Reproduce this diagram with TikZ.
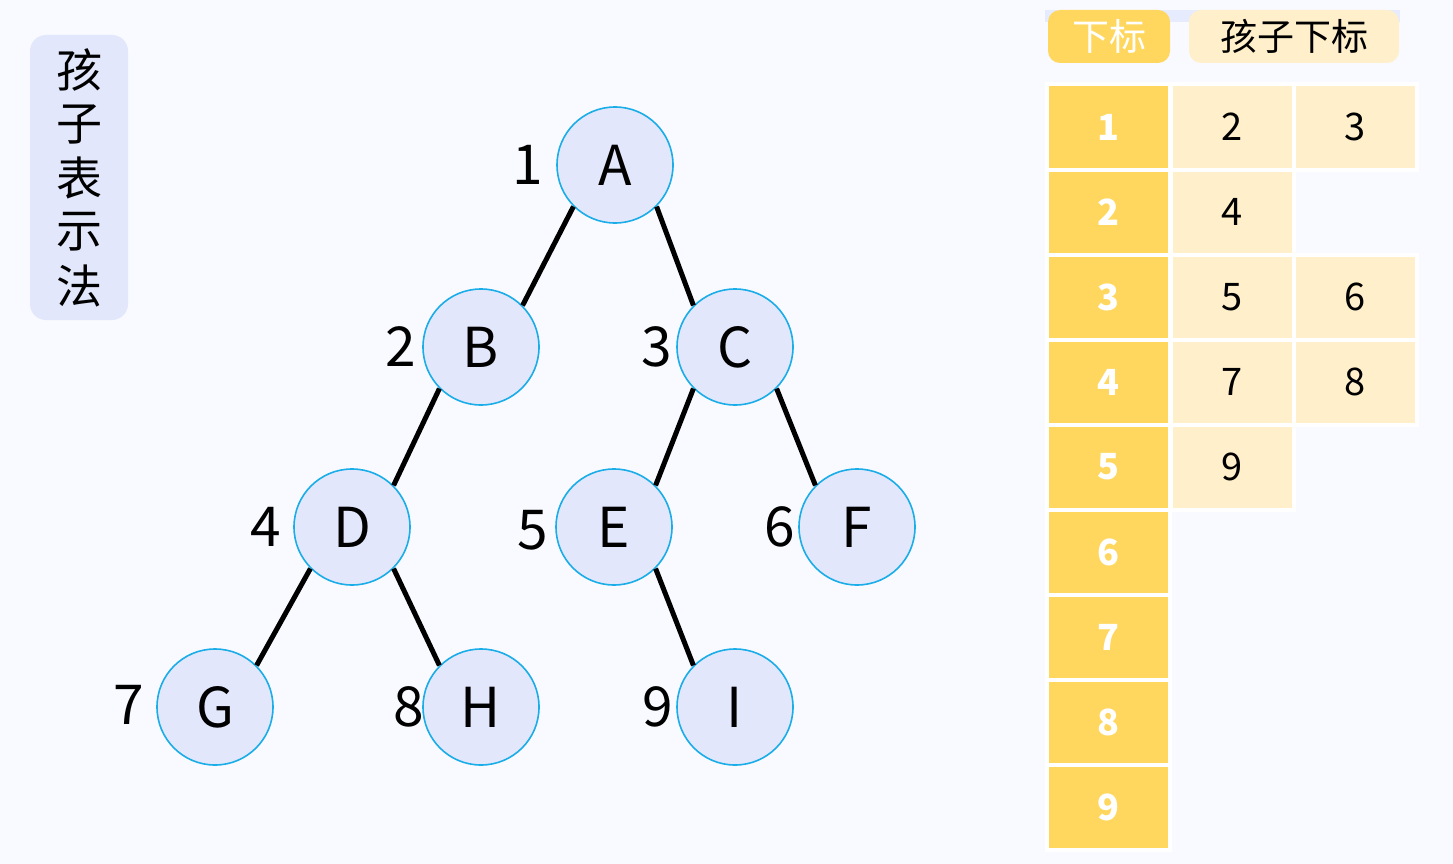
\documentclass[tikz,border=0pt]{standalone}
\usepackage{fontspec}
\setmainfont{Noto Sans CJK SC}
\newfontfamily\cjk{Noto Sans CJK SC}
\definecolor{bgc}{HTML}{F8FAFF}
\definecolor{nodefill}{HTML}{E3E7FB}
\definecolor{nodeline}{HTML}{1AADE8}
\definecolor{ydark}{HTML}{FFD75E}
\definecolor{ylight}{HTML}{FFF0CB}
\definecolor{stripc}{HTML}{E6EBFD}
\tikzset{
  treenode/.style={circle, draw=nodeline, line width=1.6pt, fill=nodefill, minimum size=116pt, inner sep=0pt, font=\cjk\fontsize{55}{55}\selectfont},
  idx/.style={font=\cjk\fontsize{55}{55}\selectfont, inner sep=0pt, anchor=east},
  edge/.style={line width=5pt, black},
  keycell/.style={rectangle, fill=ydark, draw=white, line width=4pt, minimum width=123pt, minimum height=85pt, inner sep=0pt, text=white, font=\cjk\bfseries\fontsize{36}{36}\selectfont},
  valcell/.style={rectangle, fill=ylight, draw=white, line width=4pt, minimum width=123pt, minimum height=85pt, inner sep=0pt, text=black, font=\cjk\fontsize{38}{38}\selectfont},
  hdr/.style={rectangle, rounded corners=12pt, inner sep=0pt, minimum height=53pt, font=\cjk\fontsize{37}{37}\selectfont},
}
\begin{document}
\begin{tikzpicture}[x=1pt,y=-1pt]
\path[fill=bgc] (0,0) rectangle (1453,864);
\useasboundingbox (0,0) rectangle (1453,864);
% left label
\node[rectangle, rounded corners=16pt, fill=nodefill, minimum width=98pt, minimum height=285pt, inner sep=0pt] (lbl) at (79,177.5) {};
\foreach \ch [count=\i from 0] in {孩,子,表,示,法}
  \node[font=\cjk\fontsize{46}{46}\selectfont, inner sep=0pt] (lc\i) at (79,70+54*\i) {\ch};
% tree nodes
\node[treenode] (A) at (615,165) {A};
\node[treenode] (B) at (481,347) {B};
\node[treenode] (C) at (735,347) {C};
\node[treenode] (D) at (352,527) {D};
\node[treenode] (E) at (614,527) {E};
\node[treenode] (F) at (857,527) {F};
\node[treenode] (G) at (215,707) {G};
\node[treenode] (H) at (481,707) {H};
\node[treenode] (I) at (735,707) {I};
% index labels
\node[idx] (n1) at (543,165) {1};
\node[idx] (n2) at (416,347) {2};
\node[idx] (n3) at (672,347) {3};
\node[idx] (n4) at (281,527) {4};
\node[idx] (n5) at (548,530) {5};
\node[idx] (n6) at (795,527) {6};
\node[idx] (n7) at (144,705) {7};
\node[idx] (n8) at (424,707) {8};
\node[idx] (n9) at (673,707) {9};
% edges
\draw[edge] (A.south west) -- (B.north east);
\draw[edge] (A.south east) -- (C.north west);
\draw[edge] (B.south west) -- (D.north east);
\draw[edge] (C.south west) -- (E.north east);
\draw[edge] (C.south east) -- (F.north west);
\draw[edge] (D.south west) -- (G.north east);
\draw[edge] (D.south east) -- (H.north west);
\draw[edge] (E.south east) -- (I.north west);
% header
\path[fill=stripc] (1045,10) rectangle (1400,22);
\node[hdr, fill=ydark, text=white, minimum width=122pt] (h1) at (1109,36.5) {下标};
\node[hdr, fill=ylight, text=black, minimum width=210pt] (h2) at (1294,36.5) {孩子下标};
% table
\foreach \r in {1,...,9}
  \node[keycell] (k\r) at (1108.5,42+85*\r) {\r};
\node[valcell] (c12) at (1232,127) {2};
\node[valcell] (c13) at (1355,127) {3};
\node[valcell] (c22) at (1232,212) {4};
\node[valcell] (c32) at (1232,297) {5};
\node[valcell] (c33) at (1355,297) {6};
\node[valcell] (c42) at (1232,382) {7};
\node[valcell] (c43) at (1355,382) {8};
\node[valcell] (c52) at (1232,467) {9};
\end{tikzpicture}
\end{document}
